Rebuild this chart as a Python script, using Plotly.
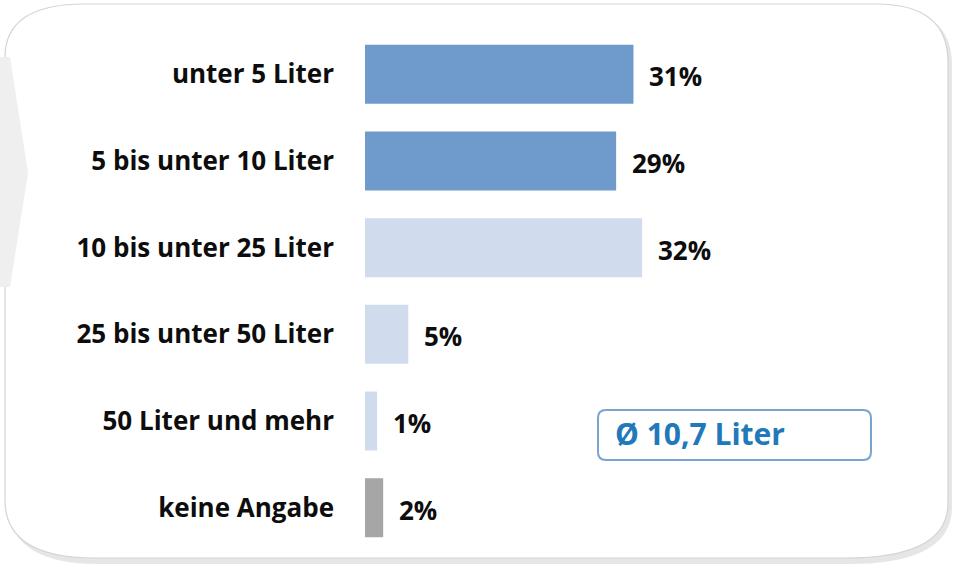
import plotly.graph_objects as go

categories = ["unter 5 Liter", "5 bis unter 10 Liter", "10 bis unter 25 Liter",
              "25 bis unter 50 Liter", "50 Liter und mehr", "keine Angabe"]
values = [31, 29, 32, 5, 1.4, 2.1]
value_labels = ["31%", "29%", "32%", "5%", "1%", "2%"]
bar_colors = ["#6E9BCB", "#6E9BCB", "#D0DCEE", "#D0DCEE", "#D0DCEE", "#A6A6A6"]
average_text = "Ø 10,7 Liter"

FW, FH = 959, 568
L, R, T, B = 365, 0, 31, 17
W, H = FW - L - R, FH - T - B
PX_PER_UNIT = 8.66
FONT = "Open Sans"


def px(X, Y):
    return (X - L) / W, (FH - B - Y) / H


def path(cmds):
    out = []
    for c in cmds:
        if c[0] in ("M", "L"):
            x, y = px(c[1], c[2])
            out.append(f"{c[0]} {x:.5f},{y:.5f}")
        elif c[0] == "Q":
            x1, y1 = px(c[1], c[2])
            x2, y2 = px(c[3], c[4])
            out.append(f"Q {x1:.5f},{y1:.5f} {x2:.5f},{y2:.5f}")
        elif c[0] == "Z":
            out.append("Z")
    return " ".join(out)


frame_cmds = [("M", 5, 57), ("Q", 5, 4, 85, 4), ("L", 876, 4), ("Q", 948, 4, 948, 62),
              ("L", 948, 503), ("Q", 948, 558, 846, 558), ("L", 95, 558),
              ("Q", 5, 558, 5, 500), ("L", 5, 277)]
shadow_cmds = [("M", 8, 60), ("Q", 8, 7, 88, 7), ("L", 879, 7), ("Q", 952, 7, 952, 65),
               ("L", 952, 507), ("Q", 952, 564, 849, 564), ("L", 98, 564),
               ("Q", 8, 564, 8, 503), ("Z",)]
chevron_cmds = [("M", 0, 57), ("L", 10, 57), ("L", 28, 173), ("L", 10, 287), ("L", 0, 287), ("Z",)]
box_cmds = [("M", 606, 410), ("L", 863, 410), ("Q", 871, 410, 871, 418), ("L", 871, 452),
            ("Q", 871, 460, 863, 460), ("L", 606, 460), ("Q", 598, 460, 598, 452),
            ("L", 598, 418), ("Q", 598, 410, 606, 410), ("Z",)]

shapes = [
    dict(type="path", xref="paper", yref="paper", path=path(shadow_cmds),
         fillcolor="#E6E6E6", line=dict(width=0), layer="below"),
    dict(type="path", xref="paper", yref="paper", path=path(frame_cmds + [("Z",)]),
         fillcolor="white", line=dict(width=0), layer="below"),
    dict(type="path", xref="paper", yref="paper", path=path(frame_cmds),
         fillcolor="rgba(0,0,0,0)", line=dict(color="#D4D4D4", width=1.2), layer="below"),
    dict(type="path", xref="paper", yref="paper", path=path(chevron_cmds),
         fillcolor="#EFEFEF", line=dict(width=0), layer="below"),
    dict(type="path", xref="paper", yref="paper", path=path(box_cmds),
         fillcolor="white", line=dict(color="#7BA3D2", width=2), layer="above"),
]

fig = go.Figure(go.Bar(
    x=values, y=categories, orientation="h",
    marker=dict(color=bar_colors, line=dict(width=0)),
    hoverinfo="skip",
))

annotations = []
for cat, v, lab in zip(categories, values, value_labels):
    annotations.append(dict(x=v, y=cat, xref="x", yref="y", text=lab, showarrow=False,
                            xanchor="left", yanchor="middle", xshift=14, yshift=-2,
                            font=dict(family=FONT, size=26, color="#0D0D0D", weight="bold")))
ax, ay = px(613, 433)
annotations.append(dict(x=ax, y=ay, xref="paper", yref="paper", text=average_text,
                        showarrow=False, xanchor="left", yanchor="middle",
                        font=dict(family=FONT, size=30, color="#2179BA", weight="bold")))

fig.update_layout(
    width=FW, height=FH,
    margin=dict(l=L, r=R, t=T, b=B, autoexpand=False),
    paper_bgcolor="white", plot_bgcolor="rgba(0,0,0,0)",
    bargap=0.32,
    showlegend=False,
    shapes=shapes,
    annotations=annotations,
    xaxis=dict(range=[0, W / PX_PER_UNIT], visible=False, fixedrange=True),
    yaxis=dict(autorange="reversed", showgrid=False, zeroline=False, showline=False,
               ticks="", ticklabelstandoff=30,
               tickfont=dict(family=FONT, size=26, color="#0D0D0D", weight="bold"),
               fixedrange=True),
)

fig.write_html("out.html", config={"displayModeBar": False},
               post_script="document.body.style.margin='0';document.body.style.padding='0';"
                           "document.documentElement.style.overflow='hidden';")
